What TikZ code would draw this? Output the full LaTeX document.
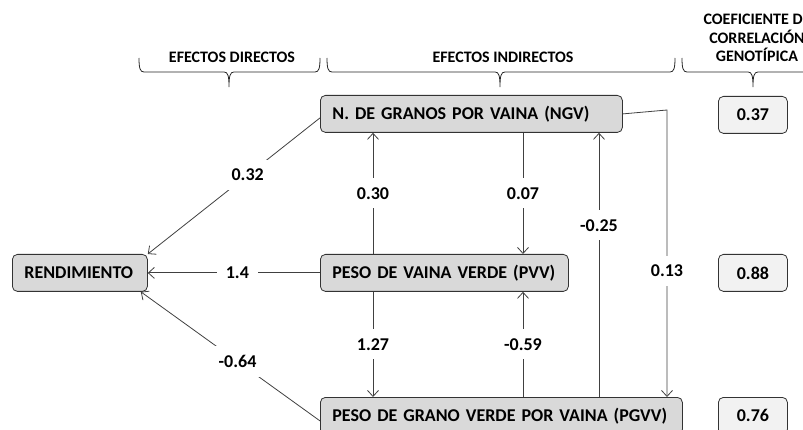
\documentclass[tikz,border=0pt]{standalone}
\usepackage{fontspec}
\setmainfont{Carlito}
\usetikzlibrary{shapes,arrows.meta,positioning}

\begin{document}
\begin{tikzpicture}[x=1pt, y=-1pt]
		\tikzstyle{Box}		= [rectangle, rounded corners=5pt, draw=black!80, fill=black!15, line width=0.8pt, minimum height=37pt, inner xsep=12pt, inner ysep=0pt, align=left, font=\fontsize{18}{20}\selectfont\bfseries]
		\tikzstyle{Coef}	= [Box, fill=black!5, text width=69pt, inner xsep=0pt, align=center]
		\tikzstyle{Path}	= [-{Straight Barb[length=6pt, width=11pt]}, black!75, line width=0.8pt]
		\tikzstyle{Weight}	= [fill=white, inner xsep=9pt, inner ysep=9pt, font=\fontsize{18}{20}\selectfont\bfseries]
		\tikzstyle{Head}	= [align=center, font=\fontsize{16}{18.5}\selectfont\bfseries]
		\tikzstyle{Brace}	= [black!85, line width=0.8pt]

		\clip (0,0) rectangle (803,430);

		% headers
		\foreach \xa/\xm/\xb in {139/229/320, 327/500/675, 682/753/824}
			\draw [Brace] (\xa,58) .. controls (\xa,68) and (\xa+1,72) .. (\xa+5,72) -- (\xm-5,72) .. controls (\xm-1,72) and (\xm,76) .. (\xm,87) .. controls (\xm,76) and (\xm+1,72) .. (\xm+5,72) -- (\xb-5,72) .. controls (\xb-1,72) and (\xb,68) .. (\xb,58);
		\node (hdir) at (232,57) [Head] {EFECTOS DIRECTOS};
		\node (hind) at (503,57) [Head] {EFECTOS INDIRECTOS};
		\node (hcoef) at (757,38) [Head] {COEFICIENTE DE\\CORRELACIÓN\\GENOTÍPICA};

		% variables
		\node (rend) at (12,254) [Box, anchor=north west, text width=111pt] {RENDIMIENTO};
		\node (ngv) at (320,95) [Box, anchor=north west, text width=278pt] {N. DE GRANOS POR VAINA (NGV)};
		\node (pvv) at (320,254) [Box, anchor=north west, text width=224pt] {PESO DE VAINA VERDE (PVV)};
		\node (pgvv) at (320,397) [Box, anchor=north west, text width=338pt] {PESO DE GRANO VERDE POR VAINA (PGVV)};

		\node (r1) at (718,96) [Coef, anchor=north west] {0.37};
		\node (r2) at (718,254) [Coef, anchor=north west] {0.88};
		\node (r3) at (718,397) [Coef, anchor=north west] {0.76};

		% direct effects
		\draw ([yshift=-4pt]ngv.west) to node[Weight, pos=0.42] {0.32} (rend.north east) [Path];
		\draw (pvv.west) to node[Weight, pos=0.48] {1.4} (rend.east) [Path];
		\draw ([yshift=-5pt]pgvv.west) to node[Weight, pos=0.46] {-0.64} ([xshift=-7pt]rend.south east) [Path];

		% indirect effects
		\draw ([xshift=53pt]pvv.north west) to node[Weight] {0.30} ([xshift=53pt]ngv.south west) [Path];
		\draw ([xshift=203pt]ngv.south west) to node[Weight] {0.07} ([xshift=203pt]pvv.north west) [Path];
		\draw ([xshift=53pt]pvv.south west) to node[Weight] {1.27} ([xshift=53pt]pgvv.north west) [Path];
		\draw ([xshift=203pt]pgvv.north west) to node[Weight] {-0.59} ([xshift=203pt]pvv.south west) [Path];
		\draw ([xshift=279pt]pgvv.north west) to node[Weight, pos=0.65] {-0.25} ([xshift=279pt]ngv.south west) [Path];
		\coordinate (k13) at (667,110);
		\draw (ngv.east) -- (k13) -- node[Weight, pos=0.56] {0.13} (k13 |- pgvv.north) [Path];
	\end{tikzpicture}
\end{document}
